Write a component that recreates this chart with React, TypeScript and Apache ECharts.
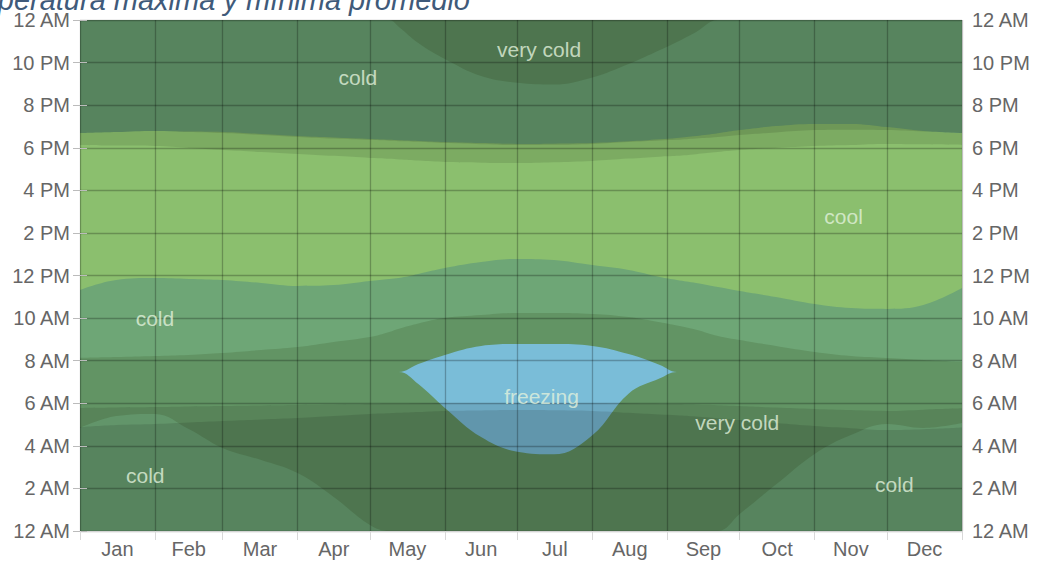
import React, { useEffect, useRef } from "react";
import * as echarts from "echarts";

// x = day of year, y = hour of day (0 = 12 AM at bottom, 24 = 12 AM at top)
const days = [0, 15, 31, 45, 59, 75, 90, 105, 120, 128, 132, 140, 151, 166, 181, 196, 212, 227, 240, 247, 255, 264, 273, 288, 304, 319, 334, 349, 365];

// temperature category boundaries (hour of day)
const veryColdNightLow = [24, 24, 24, 24, 24, 24, 24, 24, 24, 24, 23.67, 22.92, 22.17, 21.37, 21.05, 20.97, 21.3, 21.93, 22.59, 22.97, 23.44, 24, 24, 24, 24, 24, 24, 24, 24];
const coolEnd = [18.69, 18.74, 18.79, 18.76, 18.74, 18.65, 18.55, 18.48, 18.41, 18.37, 18.35, 18.32, 18.27, 18.22, 18.18, 18.19, 18.22, 18.3, 18.4, 18.46, 18.55, 18.68, 18.83, 19.02, 19.12, 19.12, 18.97, 18.79, 18.69];
const coolStart = [11.32, 11.79, 11.88, 11.84, 11.79, 11.65, 11.51, 11.55, 11.74, 11.84, 11.88, 12.07, 12.35, 12.63, 12.78, 12.73, 12.49, 12.26, 11.93, 11.79, 11.65, 11.46, 11.27, 10.99, 10.66, 10.47, 10.43, 10.61, 11.41];
const veryColdMorningTop = [8.13, 8.17, 8.22, 8.27, 8.36, 8.5, 8.64, 8.88, 9.11, 9.35, 9.5, 9.75, 10.0, 10.14, 10.24, 10.24, 10.19, 10.05, 9.8, 9.65, 9.45, 9.16, 8.97, 8.69, 8.41, 8.22, 8.13, 8.03, 7.94];
const freezingTip = 7.47;
const freezingLow = [7.47, 7.47, 7.47, 7.47, 7.47, 7.47, 7.47, 7.47, 7.47, 7.47, 7.47, 6.9, 5.78, 4.41, 3.72, 3.6, 4.5, 6.45, 7.17, 7.47, 7.47, 7.47, 7.47, 7.47, 7.47, 7.47, 7.47, 7.47, 7.47];
const freezingHigh = [7.47, 7.47, 7.47, 7.47, 7.47, 7.47, 7.47, 7.47, 7.47, 7.47, 7.47, 7.84, 8.27, 8.69, 8.78, 8.78, 8.69, 8.31, 7.8, 7.47, 7.47, 7.47, 7.47, 7.47, 7.47, 7.47, 7.47, 7.47, 7.47];
const coldNightTop = [4.84, 5.4, 5.5, 4.79, 3.9, 3.33, 2.72, 1.6, 0.28, 0, 0, 0, 0, 0, 0, 0, 0, 0, 0, 0, 0, 0, 0.8, 2.18, 3.62, 4.51, 5.03, 4.84, 5.07];

// daylight boundaries (hour of day)
const nightEndMorning = [4.88, 4.98, 5.03, 5.1, 5.17, 5.24, 5.31, 5.4, 5.5, 5.53, 5.55, 5.59, 5.64, 5.66, 5.68, 5.67, 5.64, 5.55, 5.47, 5.44, 5.38, 5.3, 5.21, 5.07, 4.93, 4.83, 4.74, 4.78, 4.86];
const sunrise = [5.78, 5.8, 5.82, 5.85, 5.87, 5.9, 5.92, 5.94, 5.96, 5.98, 5.98, 5.99, 6.01, 6.01, 6.01, 6.01, 6.01, 5.99, 5.97, 5.96, 5.94, 5.91, 5.87, 5.8, 5.73, 5.68, 5.64, 5.7, 5.76];
const sunset = [18.13, 18.1, 18.08, 17.99, 17.89, 17.8, 17.71, 17.62, 17.52, 17.48, 17.45, 17.4, 17.33, 17.3, 17.28, 17.32, 17.38, 17.49, 17.58, 17.62, 17.7, 17.8, 17.89, 17.99, 18.08, 18.13, 18.18, 18.16, 18.13];
const nightStartEvening = [18.69, 18.74, 18.79, 18.74, 18.69, 18.6, 18.51, 18.43, 18.36, 18.33, 18.31, 18.28, 18.22, 18.17, 18.13, 18.14, 18.18, 18.27, 18.34, 18.37, 18.43, 18.5, 18.6, 18.72, 18.83, 18.85, 18.83, 18.76, 18.69];

// axes
const months = ["Jan", "Feb", "Mar", "Apr", "May", "Jun", "Jul", "Aug", "Sep", "Oct", "Nov", "Dec"];
const monthStarts = [0, 31, 59, 90, 120, 151, 181, 212, 243, 273, 304, 334, 365];
const monthMids = [15.5, 45, 74.5, 105, 135.5, 166, 196.5, 227.5, 258, 288.5, 319, 349.5];
const hourLabels = ["12 AM", "2 AM", "4 AM", "6 AM", "8 AM", "10 AM", "12 PM", "2 PM", "4 PM", "6 PM", "8 PM", "10 PM", "12 AM"];

// region labels
const labelNames = ["very cold", "cold", "cool", "cold", "freezing", "very cold", "cold", "cold"];
const labelDays = [190, 115, 316, 31, 191, 272, 27, 337];
const labelHours = [22.6, 21.3, 14.75, 10.0, 6.3, 5.1, 2.6, 2.2];

const COOL = "#8bbf6e";
const COLD = "#6ea676";
const VERY_COLD = "#629464";
const FREEZING = "#7abdd8";

const pts = (vals: number[]) => days.map((d, i) => [d, vals[i]]);

const area = (vals: number[], color: string, origin: any = "start") => ({
  type: "line",
  data: pts(vals),
  smooth: 0.4,
  symbol: "none",
  showSymbol: false,
  silent: true,
  lineStyle: { width: 0, opacity: 0 },
  areaStyle: { color, opacity: 1, origin },
  emphasis: { disabled: true },
  z: 2,
});

function nearestIndex(arr: number[], v: number) {
  let best = 0;
  for (let i = 1; i < arr.length; i++) if (Math.abs(arr[i] - v) < Math.abs(arr[best] - v)) best = i;
  return best;
}

export default function App() {
  const ref = useRef<HTMLDivElement>(null);
  useEffect(() => {
    const chart = echarts.init(ref.current!, null, { renderer: "svg" });
    const axisFont = { fontSize: 20, color: "#666", fontFamily: "Liberation Sans, Arial, sans-serif" };
    const gridLine = { show: true, lineStyle: { color: "rgba(0,0,0,0.25)", width: 1.3 } };
    const yAxisBase = {
      type: "value",
      min: 0,
      max: 24,
      interval: 2,
      z: 10,
      axisLine: { show: false },
      axisTick: { show: true, length: 7, lineStyle: { color: "#bbb" } },
      axisLabel: { ...axisFont, margin: 10, formatter: (v: number) => hourLabels[Math.round(v / 2)] },
    };
    chart.setOption({
      animation: false,
      grid: { left: 80, right: 75, top: 20, bottom: 30, show: true, backgroundColor: VERY_COLD, borderWidth: 0 },
      graphic: [
        {
          type: "text",
          x: 470,
          y: 0,
          style: {
            text: "Temperatura máxima y mínima promedio",
            fontSize: 29,
            fontStyle: "italic",
            fontFamily: "Liberation Sans, Arial, sans-serif",
            fill: "#3f5a7a",
            align: "right",
            verticalAlign: "middle",
          },
        },
      ],
      xAxis: [
        {
          type: "value",
          min: 0,
          max: 365,
          z: 10,
          axisLine: { show: true, lineStyle: { color: "#d4d4d4" } },
          axisTick: { show: true, length: 9, customValues: monthStarts, lineStyle: { color: "#d8d8d8" } },
          axisLabel: {
            ...axisFont,
            margin: 8,
            customValues: monthMids,
            formatter: (v: number) => months[nearestIndex(monthMids, v)],
          },
          splitLine: gridLine,
        },
        {
          type: "value",
          min: 0,
          max: 365,
          position: "top",
          z: 10,
          axisLine: { show: true, lineStyle: { color: "#d4d4d4" } },
          axisTick: { show: false },
          axisLabel: { show: false },
          splitLine: { show: false },
        },
      ],
      yAxis: [
        { ...yAxisBase, position: "left", splitLine: gridLine },
        { ...yAxisBase, position: "right", splitLine: { show: false } },
      ],
      series: [
        area(veryColdNightLow, COLD),
        area(coolEnd, COOL),
        area(coolStart, COLD),
        area(veryColdMorningTop, VERY_COLD),
        area(freezingHigh, FREEZING, freezingTip),
        area(freezingLow, FREEZING, freezingTip),
        area(coldNightTop, COLD),
        area(sunrise, "rgba(0,0,0,0.1)"),
        area(nightEndMorning, "rgba(0,0,0,0.11)"),
        area(sunset, "rgba(0,0,0,0.1)", "end"),
        area(nightStartEvening, "rgba(0,0,0,0.11)", "end"),
        {
          type: "scatter",
          symbolSize: 0,
          silent: true,
          z: 20,
          data: labelNames.map((n, i) => ({ name: n, value: [labelDays[i], labelHours[i]] })),
          label: {
            show: true,
            position: "inside",
            formatter: "{b}",
            fontSize: 21,
            color: "#e2f2dc",
            fontFamily: "Liberation Sans, Arial, sans-serif",
          },
        },
      ],
    });
    return () => chart.dispose();
  }, []);
  return <div ref={ref} style={{ position: "absolute", left: 0, top: 0, width: 1037, height: 561 }} />;
}
